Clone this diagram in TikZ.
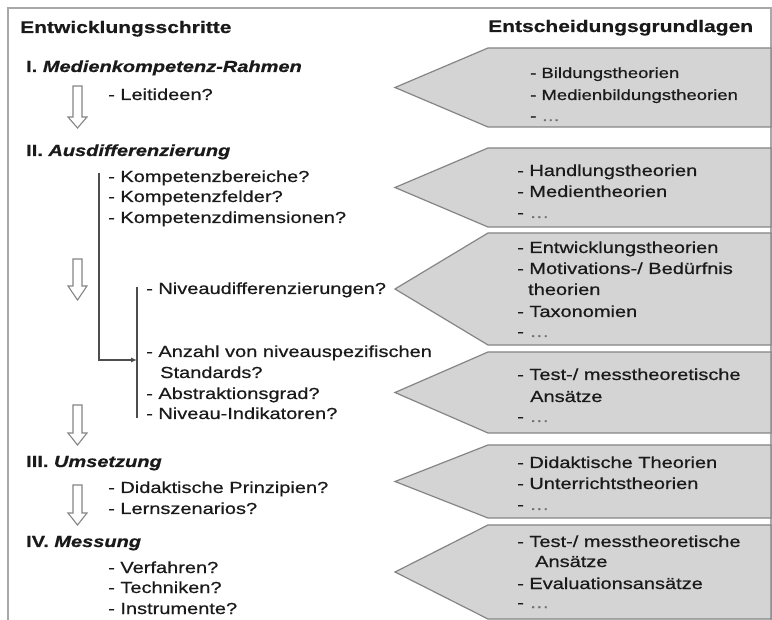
\documentclass[tikz,border=0pt]{standalone}
\usepackage{fontspec}
\setmainfont[FakeStretch=1.25, FakeBold=0.6]{Liberation Sans}
\usetikzlibrary{arrows.meta}
\definecolor{framegray}{HTML}{A8A8A8}
\definecolor{boxfill}{HTML}{D4D4D4}
\definecolor{boxline}{HTML}{858585}
\definecolor{linkgray}{HTML}{4D4D4D}
\definecolor{txt}{HTML}{1A1A1A}
\definecolor{dotgray}{HTML}{6E6E6E}
\newcommand{\moredots}{-\ {\color{dotgray}\dots}}
\tikzset{
  lbl/.style={anchor=base west, inner sep=0pt, text=txt, font=\fontsize{16}{19}\selectfont},
  colhead/.style={lbl, font=\fontsize{16.8}{20}\selectfont\bfseries},
  stage/.style={lbl, font=\fontsize{16}{19}\selectfont\bfseries},
  smalltxt/.style={lbl, font=\fontsize{14.8}{18}\selectfont},
  basis/.style={fill=boxfill, draw=boxline, line width=1.2pt, line join=miter},
  stepdown/.style={fill=white, draw=boxline, line width=1.1pt, line join=miter},
  link/.style={draw=linkgray, line width=1.1pt},
}
% pentagon pointing left: name, top, bottom
\newcommand{\basisbox}[3]{%
  \draw[basis] (488,#2) -- (771,#2) -- (771,#3) -- (488,#3) -- (395,{(#2+#3)/2}) -- cycle;
  \coordinate (#1) at (395,{(#2+#3)/2});
}
% hollow downward arrow: name, top, head base, tip
\newcommand{\stepdownarrow}[4]{%
  \draw[stepdown] (73,#2) -- (82,#2) -- (82,#3) -- (87,#3) -- (77.5,#4) -- (68,#3) -- (73,#3) -- cycle;
  \coordinate (#1) at (77.5,#4);
}
\begin{document}
\begin{tikzpicture}[x=1pt, y=-1pt]
\useasboundingbox (0,0) rectangle (772,620);
\fill[white] (0,0) rectangle (772,620);

% outer frame
\draw[framegray, line width=1.5pt] (8,620) -- (8,8) -- (771,8) -- (771,620);

% right column: decision bases
\basisbox{p1}{48}{127}
\basisbox{p2}{148}{227}
\basisbox{p3}{233}{345}
\basisbox{p4}{352}{433}
\basisbox{p5}{445}{518}
\basisbox{p6}{525}{619}

% left column: stage arrows
\stepdownarrow{a1}{86}{117}{128}
\stepdownarrow{a2}{259}{286}{300}
\stepdownarrow{a3}{405}{433}{445}
\stepdownarrow{a4}{485}{513}{525}

% column headings
\node[colhead] (hl) at (20,33) {Entwicklungsschritte};
\node[colhead] (hr) at (488,32) {Entscheidungsgrundlagen};

% stage I
\node[stage] (s1) at (26,72) {I. \itshape Medienkompetenz-Rahmen};
\node[lbl] (s1a) at (108,100) {- Leitideen?};

% stage II
\node[stage] (s2) at (26,156) {II. \itshape Ausdifferenzierung};
\node[lbl] (s2a) at (108,182) {- Kompetenzbereiche?};
\node[lbl] (s2b) at (108,202) {- Kompetenzfelder?};
\node[lbl] (s2c) at (108,223) {- Kompetenzdimensionen?};
\node[lbl] (s2d) at (146,294) {- Niveaudifferenzierungen?};
\node[lbl] (s2e) at (146,357) {- Anzahl von niveauspezifischen};
\node[lbl] (s2f) at (160,378) {Standards?};
\node[lbl] (s2g) at (146,399) {- Abstraktionsgrad?};
\node[lbl] (s2h) at (146,419) {- Niveau-Indikatoren?};

% stage III
\node[stage] (s3) at (26,467) {III. \itshape Umsetzung};
\node[lbl] (s3a) at (108,493) {- Didaktische Prinzipien?};
\node[lbl] (s3b) at (108,514) {- Lernszenarios?};

% stage IV
\node[stage] (s4) at (26,547) {IV. \itshape Messung};
\node[lbl] (s4a) at (108,573) {- Verfahren?};
\node[lbl] (s4b) at (108,593) {- Techniken?};
\node[lbl] (s4c) at (108,614) {- Instrumente?};

% brackets grouping the sub-questions of stage II
\coordinate (b1top) at (99,173);
\coordinate (b1bot) at (99,360);
\coordinate (b2top) at (137,287);
\coordinate (b2bot) at (137,418);
\draw[link] (b2top) -- (b2bot);
\draw[link, -{Latex[length=6pt,width=5pt]}] (b1top) -- (b1bot) -- (b1bot -| b2top);

% texts inside the pentagons
\node[smalltxt] (t1a) at (530,78)  {- Bildungstheorien};
\node[smalltxt] (t1b) at (530,100) {- Medienbildungstheorien};
\node[smalltxt] (t1c) at (530,121) {\moredots};

\node[lbl] (t2a) at (517,176) {- Handlungstheorien};
\node[lbl] (t2b) at (517,197) {- Medientheorien};
\node[lbl] (t2c) at (517,218) {\moredots};

\node[lbl] (t3a) at (517,253) {- Entwicklungstheorien};
\node[lbl] (t3b) at (517,274) {- Motivations-/ Bedürfnis};
\node[lbl] (t3c) at (528,295) {theorien};
\node[lbl] (t3d) at (517,317) {- Taxonomien};
\node[lbl] (t3e) at (517,337) {\moredots};

\node[lbl] (t4a) at (517,380) {- Test-/ messtheoretische};
\node[lbl] (t4b) at (530,402) {Ansätze};
\node[lbl] (t4c) at (517,422) {\moredots};

\node[lbl] (t5a) at (517,468) {- Didaktische Theorien};
\node[lbl] (t5b) at (517,489) {- Unterrichtstheorien};
\node[lbl] (t5c) at (517,510) {\moredots};

\node[lbl] (t6a) at (517,547) {- Test-/ messtheoretische};
\node[lbl] (t6b) at (535,567) {Ansätze};
\node[lbl] (t6c) at (517,589) {- Evaluationsansätze};
\node[lbl] (t6d) at (517,608) {\moredots};
\end{tikzpicture}
\end{document}
